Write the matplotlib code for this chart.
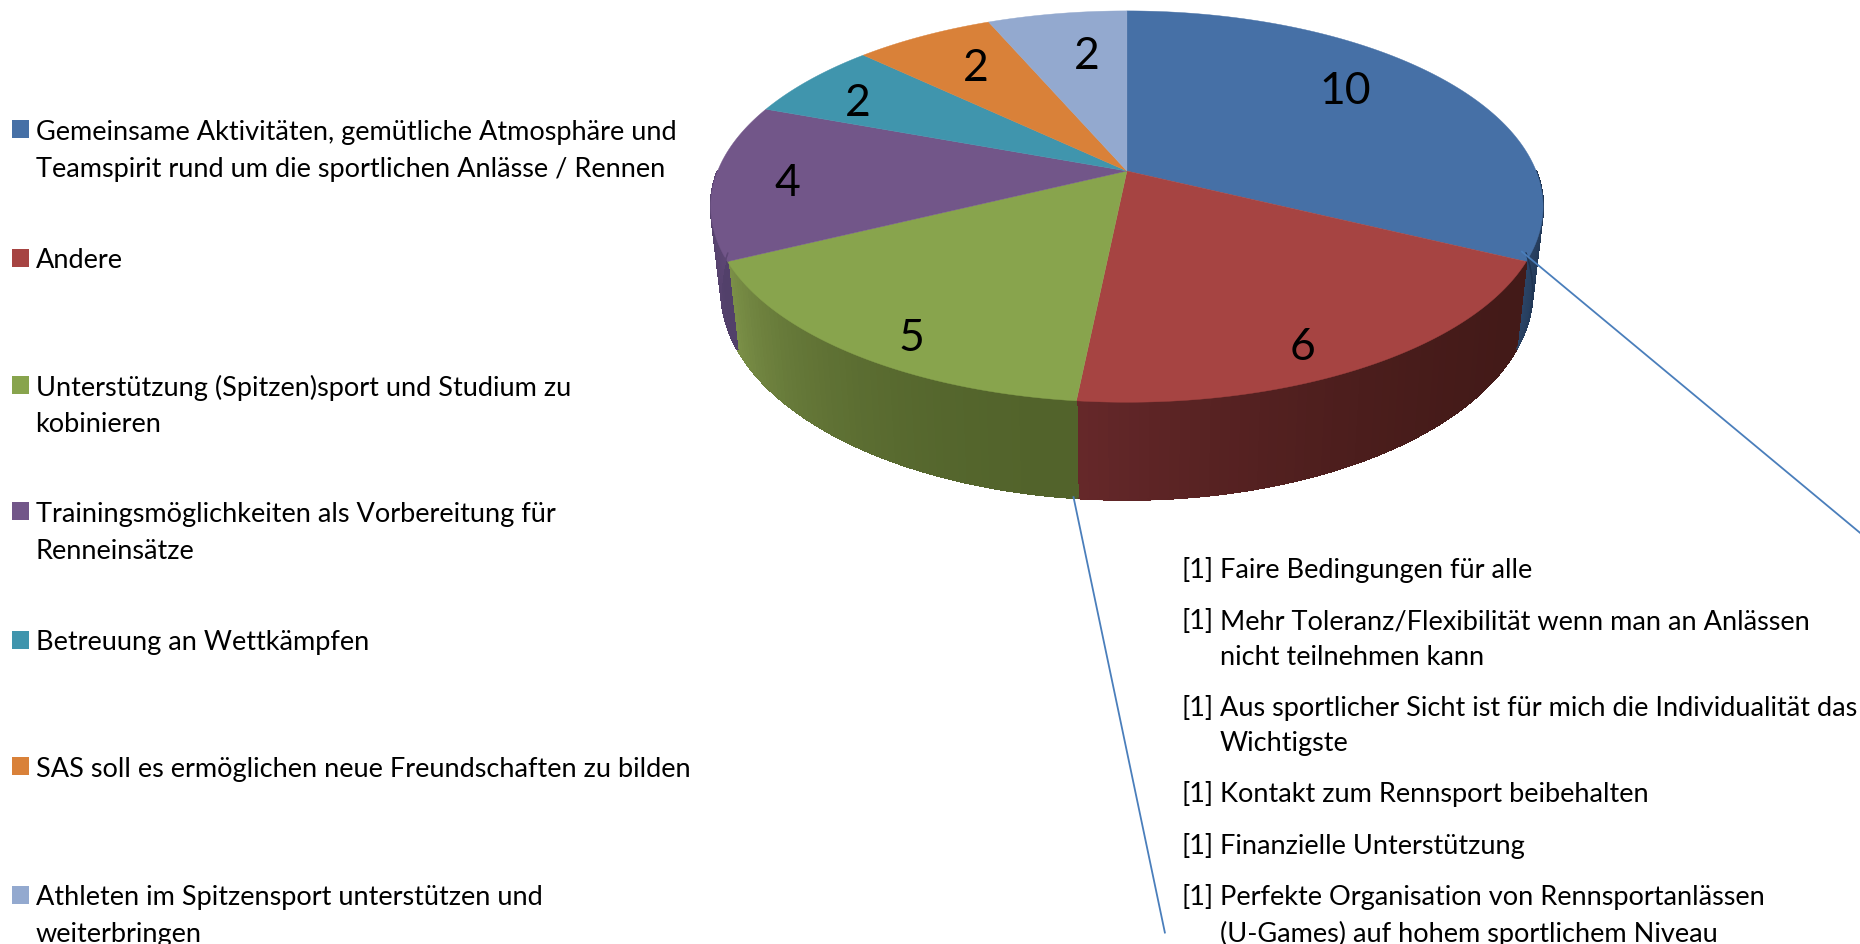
#!/usr/bin/env python3
# -*- coding: utf-8 -*-
import numpy as np
import matplotlib
matplotlib.use('Agg')
import matplotlib.pyplot as plt
from matplotlib.patches import Polygon, Rectangle

plt.rcParams['font.family'] = ['Lato', 'DejaVu Sans']

categories = [
    'Gemeinsame Aktivitäten, gemütliche Atmosphäre und\nTeamspirit rund um die sportlichen Anlässe / Rennen',
    'Andere',
    'Unterstützung (Spitzen)sport und Studium zu\nkobinieren',
    'Trainingsmöglichkeiten als Vorbereitung für\nRenneinsätze',
    'Betreuung an Wettkämpfen',
    'SAS soll es ermöglichen neue Freundschaften zu bilden',
    'Athleten im Spitzensport unterstützen und\nweiterbringen',
]
values = [10, 6, 5, 4, 2, 2, 2]
colors = ['#4670A6', '#A64442', '#88A44D', '#725689', '#4095AD', '#D98139', '#93A9CF']
side_light = ['#2B4466', '#66282A', '#7C9148', '#5E4775', '#2F6F82', '#A5622B', '#6F80A0']
side_dark = ['#1E3350', '#431A18', '#52632B', '#52406A', '#2F6F82', '#A5622B', '#6F80A0']

notes = [
    ('[1]', 'Faire Bedingungen für alle'),
    ('[1]', 'Mehr Toleranz/Flexibilität wenn man an Anlässen'),
    ('', 'nicht teilnehmen kann'),
    ('[1]', 'Aus sportlicher Sicht ist für mich die Individualität das'),
    ('', 'Wichtigste'),
    ('[1]', 'Kontakt zum Rennsport beibehalten'),
    ('[1]', 'Finanzielle Unterstützung'),
    ('[1]', 'Perfekte Organisation von Rennsportanlässen'),
    ('', '(U-Games) auf hohem sportlichem Niveau'),
]

# layout, measured in reference pixels
S = 1860 / 1568
CX, CY = 950 * S, 145 * S
K = 0.1818
BX, BY = 345 * S, 159.5 * S
DEPTH_Y0 = 214 * S
SIDE_SX, SIDE_SY = 0.975, 1.068
FS = 19.5
legend_y = [112, 220, 327, 434, 542, 649, 757]
note_y = [481, 524, 554, 597, 627, 670, 714, 757, 787]
label_xy = [(1134, 77), (1098, 293), (768, 285), (664, 155), (723, 87), (823, 58), (916, 48)]


def top_point(theta, r=1.0):
    # theta clockwise from 12 o'clock, perspective projection of the disc
    x = r * np.sin(theta)
    y = r * np.cos(theta)
    d = 1 + K * y
    return CX + BX * x / d, CY - BY * y / d


def bottom_point(theta):
    x, y = top_point(theta)
    return CX + (x - CX) * SIDE_SX, DEPTH_Y0 + (y - CY) * SIDE_SY


def mix(c1, c2, t):
    a = np.array(matplotlib.colors.to_rgb(c1))
    b = np.array(matplotlib.colors.to_rgb(c2))
    return tuple(a + (b - a) * t)


fig = plt.figure(figsize=(18.6, 9.45), dpi=100)
ax = fig.add_axes([0, 0, 1, 1])
ax.set_xlim(0, 1860)
ax.set_ylim(945, 0)
ax.axis('off')

edges = np.cumsum([0] + values) / sum(values) * 2 * np.pi

# side wall, only the part facing the viewer
for i in range(len(values)):
    a0, a1 = edges[i], edges[i + 1]
    a0v, a1v = max(a0, np.pi * 0.5), min(a1, np.pi * 1.5)
    if a1v <= a0v:
        continue
    steps = np.linspace(a0v, a1v, 60)
    for j in range(len(steps) - 1):
        t = (steps[j] - a0v) / (a1v - a0v)
        quad = [top_point(steps[j]), top_point(steps[j + 1]),
                bottom_point(steps[j + 1]), bottom_point(steps[j])]
        c = mix(side_dark[i], side_light[i], t ** 2)
        ax.add_patch(Polygon(quad, closed=True, facecolor=c, edgecolor=c, lw=0.8, antialiased=False))
        xb, yb = zip(bottom_point(steps[j]), bottom_point(steps[j + 1]))
        ax.plot(xb, yb, color=c, lw=1.0, solid_capstyle='round')

# top face
for i in range(len(values)):
    ts = np.linspace(edges[i], edges[i + 1], 120)
    pts = [(CX, CY)] + [top_point(t) for t in ts]
    ax.add_patch(Polygon(pts, closed=True, facecolor=colors[i], edgecolor=colors[i], lw=0.3))

for v, (lx, ly) in zip(values, label_xy):
    ax.text(lx * S, ly * S, str(v), fontsize=32, color='black', ha='center', va='center')

# legend
for c, name, ly in zip(colors, categories, legend_y):
    ax.add_patch(Rectangle((12, (ly - 2) * S - 9), 17, 18, facecolor=c, edgecolor='none'))
    for n, line in enumerate(name.split('\n')):
        ax.text(30 * S, (ly + n * 30.5) * S, line, fontsize=FS, color='black', ha='left', va='center')

# callout lines
ax.plot([1283 * S, 1568 * S], [213 * S, 450 * S], color='#4A7EBB', lw=1.3)
ax.plot([905 * S, 982 * S], [420 * S, 787 * S], color='#4A7EBB', lw=1.3)

# notes on "Andere"
for (tag, line), ny in zip(notes, note_y):
    if tag:
        ax.text(996 * S, ny * S, tag, fontsize=FS, color='black', ha='left', va='center')
    ax.text(1028.5 * S, ny * S, line, fontsize=FS, color='black', ha='left', va='center')

fig.savefig('out.png', dpi=100)
